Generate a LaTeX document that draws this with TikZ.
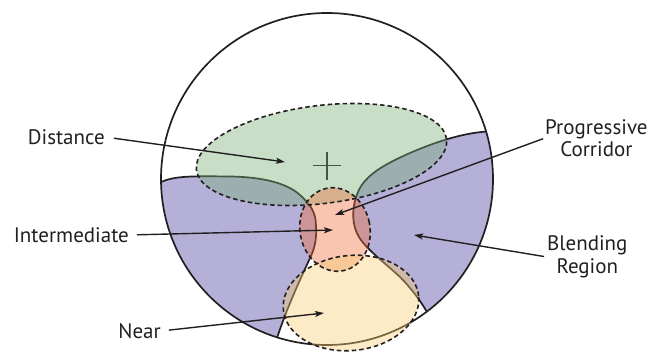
\documentclass[tikz,border=0pt]{standalone}
\usepackage{fontspec}
\setmainfont{PT Sans}
\usetikzlibrary{arrows.meta}
\definecolor{purp}{RGB}{181,176,216}
\definecolor{grn}{RGB}{117,173,116}
\definecolor{pnk}{RGB}{240,110,58}
\definecolor{yel}{RGB}{247,205,112}
\definecolor{ink}{RGB}{35,31,32}
\begin{document}
\begin{tikzpicture}[x=1pt,y=-1pt,
  lbl/.style={inner sep=0pt,font=\fontsize{21}{22.5}\selectfont,text=ink,align=center},
  arr/.style={draw=ink,line width=1.4pt,-{Stealth[length=9pt,width=6pt,inset=2pt]}},
  outline/.style={draw=ink,line width=1.7pt},
  zone/.style={fill opacity=0.4},
  dashline/.style={draw=ink,line width=1.6pt,dash pattern=on 4.5pt off 3pt}]
\useasboundingbox (0,0) rectangle (663,352);
\coordinate (O) at (327,179);
\coordinate (cG) at (321.5,154.5);
\coordinate (cI) at (335,229.5);
\coordinate (cN) at (351,303);
% blending regions
\begin{scope}
  \clip (O) circle[radius=166pt];
  \fill[purp] (130,184) -- (161,182) .. controls (175,176) and (190,176) .. (230,176.5)
     .. controls (265,177) and (288,184) .. (300,195)
     .. controls (310,204) and (316,212) .. (316,226)
     .. controls (317,240) and (314,250) .. (310,258)
     .. controls (300,280) and (288,305) .. (277,338)
     -- (270,360) -- (130,360) -- cycle;
  \fill[purp] (500,128) -- (487,131.5) .. controls (465,133) and (440,140) .. (410,153)
     .. controls (385,164) and (365,175) .. (358,192)
     .. controls (351,208) and (352,226) .. (359,237)
     .. controls (366,249) and (385,263) .. (400,277)
     .. controls (410,287) and (420,300) .. (427,312)
     -- (440,335) -- (520,335) -- cycle;
  \draw[outline] (161,182) .. controls (175,176) and (190,176) .. (230,176.5)
     .. controls (265,177) and (288,184) .. (300,195)
     .. controls (310,204) and (316,212) .. (316,226)
     .. controls (317,240) and (314,250) .. (310,258)
     .. controls (300,280) and (288,305) .. (277,338) -- (270,360);
  \draw[outline] (500,128) -- (487,131.5) .. controls (465,133) and (440,140) .. (410,153)
     .. controls (385,164) and (365,175) .. (358,192)
     .. controls (351,208) and (352,226) .. (359,237)
     .. controls (366,249) and (385,263) .. (400,277)
     .. controls (410,287) and (420,300) .. (427,312) -- (440,335);
\end{scope}
\draw[outline] (O) circle[radius=166pt];
% cross
\draw[ink,line width=1.6pt] (312.7,165.7) -- (340.7,165.7) (326.7,152) -- (326.7,180);
% zones
\fill[grn,zone,shift={(cG)},rotate=7] (0,0) ellipse[x radius=126pt,y radius=49pt];
\fill[pnk,zone,shift={(cI)},rotate=11] (0,0) ellipse[x radius=35pt,y radius=42pt];
\fill[yel,zone,shift={(cN)},rotate=6] (0,0) ellipse[x radius=68pt,y radius=47.5pt];
\draw[dashline,shift={(cG)},rotate=7] (0,0) ellipse[x radius=126pt,y radius=49pt];
\draw[dashline,shift={(cI)},rotate=11] (0,0) ellipse[x radius=35pt,y radius=42pt];
\draw[dashline,shift={(cN)},rotate=6] (0,0) ellipse[x radius=68pt,y radius=47.5pt];
% labels
\node[lbl,anchor=east] (dist) at (105,137) {Distance};
\node[lbl,anchor=east] (inter) at (129,235) {Intermediate};
\node[lbl,anchor=east] (near) at (161,331) {Near};
\node[lbl,anchor=west] (prog) at (545,138) {Progressive\\Corridor};
\node[lbl,anchor=west] (blend) at (547,257) {Blending\\Region};
\coordinate (tD) at (285,162);
\coordinate (tI) at (333,230);
\coordinate (tN) at (324,313);
\coordinate (tP) at (335,215);
\coordinate (tB) at (414,235);
\draw[arr,shorten <=9pt] (dist.east) -- (tD);
\draw[arr,shorten <=8pt] (inter.east) -- (tI);
\draw[arr,shorten <=8pt] (near.east) -- (tN);
\draw[arr,shorten <=2pt] (prog.west) -- (tP);
\draw[arr,shorten <=3pt] (blend.west) -- (tB);
\end{tikzpicture}
\end{document}
